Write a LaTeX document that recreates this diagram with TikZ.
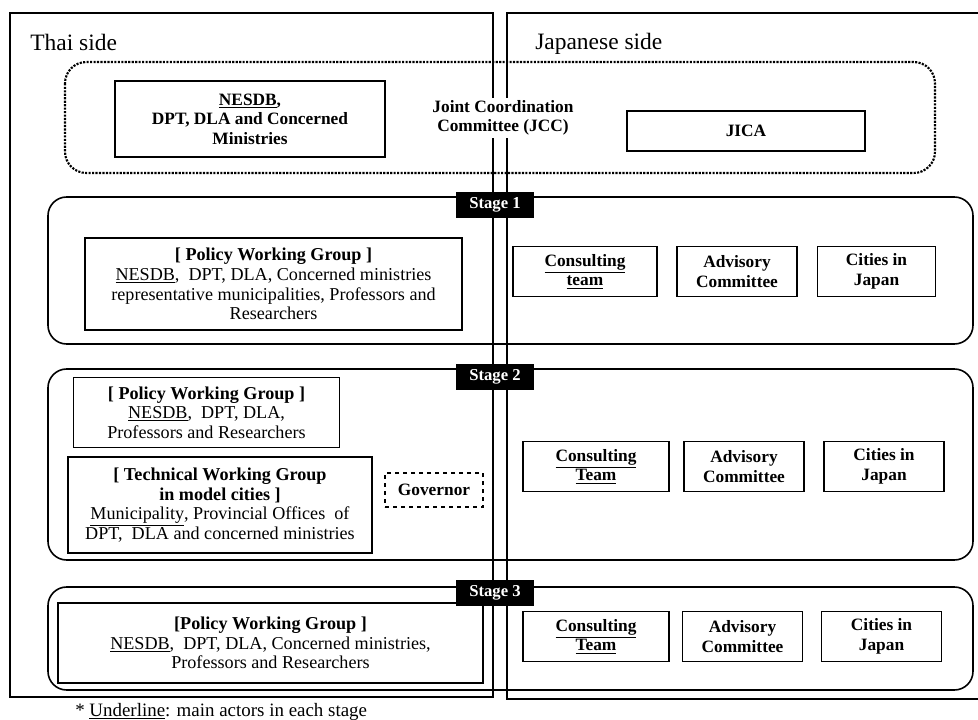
\documentclass[tikz,border=0pt]{standalone}
\usepackage{fontspec}
\setmainfont{Liberation Serif}
\usetikzlibrary{positioning}

\begin{document}
\begin{tikzpicture}
[x=0.75pt,y=-0.75pt,%
  frameDecorate/.style={line width=1.2pt},%
  stageDecorate/.style={line width=1.2pt,rounded corners=14pt},%
  jccDecorate/.style={densely dotted,line width=1.6pt,rounded corners=16pt},%
  boxDecorate/.style={shape=rectangle,draw,line width=0.9pt,align=center,inner sep=1pt,
    font=\bfseries\fontsize{13}{14.7}\selectfont},%
  groupDecorate/.style={boxDecorate,font=\fontsize{13.6}{14.7}\selectfont},%
  labelDecorate/.style={fill=black,text=white,inner sep=0pt,minimum width=58pt,minimum height=20pt,
    font=\bfseries\fontsize{12.5}{14}\selectfont},%
  sideDecorate/.style={anchor=west,inner sep=0pt,font=\fontsize{17.6}{19}\selectfont}]
\useasboundingbox (0,0) rectangle (978,720);
%% the two sides
\draw[frameDecorate] (10,13) rectangle (493,697);
\draw[frameDecorate] (990,13) -- (507,13) -- (507,699) -- (990,699);
\node (thaiSide) at (30,42) [sideDecorate] {Thai side};
\node (japanSide) at (535,44) [sideDecorate] {Japanese side};
%% committee and stages
\draw[jccDecorate] (65,62) rectangle (935,173);
\draw[stageDecorate] (48,197) rectangle (973,344);
\draw[stageDecorate] (48,369) rectangle (973,560);
\draw[stageDecorate] (48,587) rectangle (973,690);
\node (jcc) at (503,118) [align=center,fill=white,inner sep=2pt,
  font=\bfseries\fontsize{13}{14.7}\selectfont] {Joint Coordination\\Committee (JCC)};
\node (nesdb) at (250,119) [boxDecorate,minimum width=202.5pt,minimum height=57pt]
  {\underline{NESDB},\\DPT, DLA and Concerned\\Ministries};
\node (jica) at (746,131) [boxDecorate,minimum width=178.5pt,minimum height=30pt] {JICA};
\foreach \nodename/\y/\num in {stageOne/205/1, stageTwo/377/2, stageThree/593/3}
{
  \node (\nodename) at (495,\y) [labelDecorate] {Stage \num};
}
%% thai side groups
\node (policyOne) at (273.5,284) [groupDecorate,minimum width=282.75pt,minimum height=69pt]
  {\textbf{[ Policy Working Group ]}\\\underline{NESDB}, \ DPT, DLA, Concerned ministries\\
   representative municipalities, Professors and\\Researchers};
\node (policyTwo) at (206.5,412.5) [groupDecorate,minimum width=200pt,minimum height=53pt]
  {\textbf{[ Policy Working Group ]}\\\underline{NESDB}, \ DPT, DLA,\\Professors and Researchers};
\node (technical) at (220,505) [groupDecorate,minimum width=228pt,minimum height=72pt]
  {\textbf{[ Technical Working Group}\\\textbf{in model cities ]}\\
   \underline{Municipality}, Provincial Offices \ of\\DPT, \ DLA and concerned ministries};
\node (governor) at (434,490) [boxDecorate,dashed,minimum width=73.5pt,minimum height=25.5pt] {Governor};
\node (policyThree) at (270.5,643) [groupDecorate,minimum width=318.75pt,minimum height=60pt]
  {\textbf{[Policy Working Group ]}\\\underline{NESDB}, \ DPT, DLA, Concerned ministries,\\
   Professors and Researchers};
%% japanese side boxes
\foreach \nodename/\x/\y/\w/\txt in {
  %% stage 1
  consultOne/585/271.5/108/{\underline{Consulting}\\\underline{team}},
  advisoryOne/737/271.5/90/{Advisory\\Committee},
  citiesOne/876.5/271.5/89/{Cities in\\Japan},
  %% stage 2
  consultTwo/596/466.5/109.5/{\underline{Consulting}\\\underline{Team}},
  advisoryTwo/744/466.5/90/{Advisory\\Committee},
  citiesTwo/884/466.5/90/{Cities in\\Japan},
  %% stage 3
  consultThree/596/636.5/109.5/{\underline{Consulting}\\\underline{Team}},
  advisoryThree/742.5/636.5/90/{Advisory\\Committee},
  citiesThree/881.5/636.5/90/{Cities in\\Japan}}
{
  \node (\nodename) at (\x,\y) [boxDecorate,minimum width=\w pt,minimum height=37pt] {\txt};
}
\node (footnote) at (75,712) [anchor=west,inner sep=0pt,font=\fontsize{14.2}{15}\selectfont]
  {* \underline{Underline}: main actors in each stage};
\end{tikzpicture}
\end{document}
